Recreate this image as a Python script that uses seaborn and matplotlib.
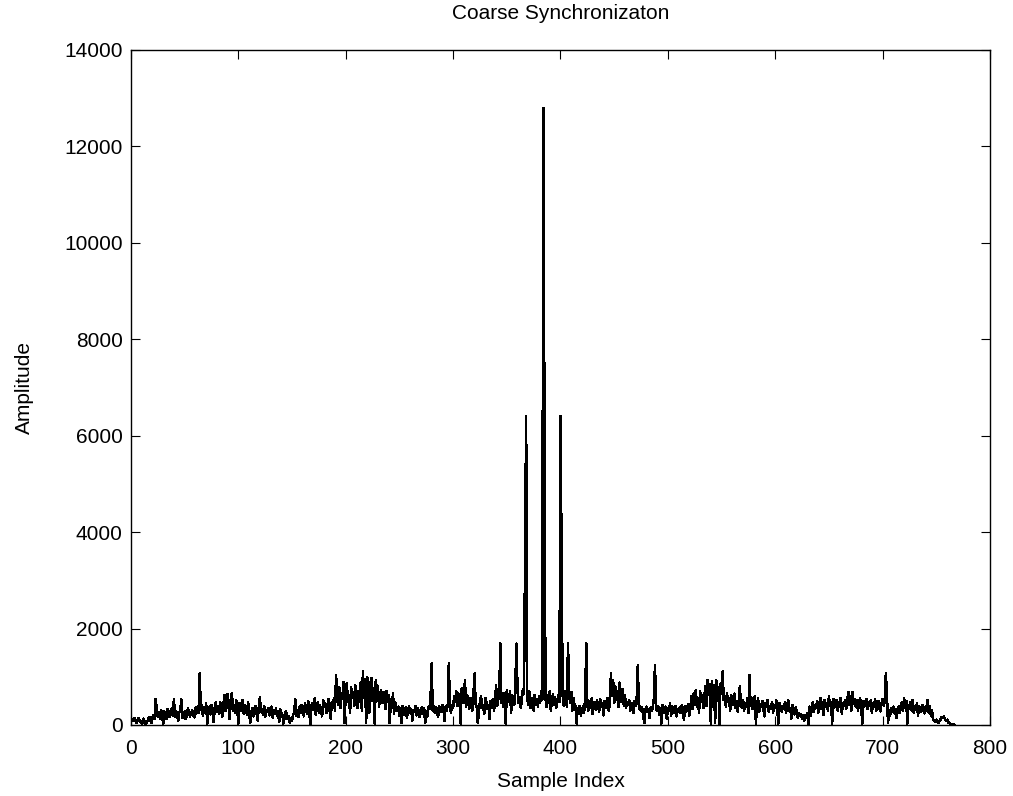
import numpy as np
import pandas as pd
import matplotlib
matplotlib.use("Agg")
import matplotlib.pyplot as plt
import seaborn as sns

# Amplitude values, samples 0..767 in blocks of 96
seg_a = [60, 120, 90, 150, 110, 40, 80, 140, 100, 60, 30, 90, 130, 20, 20, 60,
         110, 170, 90, 40, 150, 200, 130, 540, 300, 180, 260, 120, 310, 220, 20, 280,
         240, 130, 330, 270, 160, 220, 350, 200, 530, 170, 290, 210, 90, 260, 320, 530,
         150, 230, 280, 120, 200, 340, 260, 180, 240, 310, 210, 160, 360, 240, 380, 250,
         1070, 320, 410, 190, 360, 270, 450, 30, 300, 380, 220, 420, 310, 60, 350, 470,
         280, 400, 230, 480, 330, 170, 380, 620, 290, 450, 640, 360, 120, 560, 660, 300]
seg_b = [420, 250, 510, 330, 30, 460, 380, 290, 520, 240, 400, 340, 210, 470, 300, 40,
         260, 350, 180, 310, 390, 240, 90, 360, 570, 280, 330, 220, 400, 170, 310, 280,
         350, 200, 260, 380, 150, 300, 240, 340, 190, 280, 60, 320, 250, 210, 30, 160,
         280, 230, 120, 190, 40, 140, 90, 220, 260, 530, 200, 310, 170, 380, 260, 420,
         300, 180, 450, 350, 240, 500, 280, 20, 390, 460, 310, 550, 220, 370, 480, 260,
         410, 330, 180, 520, 370, 450, 250, 400, 540, 300, 130, 470, 380, 560, 290, 1040]
seg_c = [600, 420, 780, 350, 660, 540, 890, 40, 720, 870, 480, 610, 250, 780, 560, 690,
         400, 820, 620, 350, 700, 480, 880, 300, 1110, 560, 950, 40, 1000, 640, 260, 870,
         980, 500, 760, 30, 930, 700, 810, 380, 600, 720, 450, 560, 680, 340, 700, 480,
         620, 40, 540, 400, 650, 230, 480, 360, 300, 380, 180, 340, 40, 400, 220, 310,
         360, 150, 290, 380, 250, 330, 90, 310, 270, 390, 200, 350, 280, 160, 320, 370,
         240, 350, 40, 290, 180, 380, 330, 560, 1280, 300, 400, 250, 370, 320, 160, 390]
seg_d = [350, 270, 410, 330, 90, 380, 300, 420, 1280, 390, 250, 420, 350, 600, 480, 700,
         400, 650, 520, 30, 760, 590, 450, 930, 380, 620, 500, 340, 560, 420, 300, 650,
         1070, 430, 380, 40, 280, 470, 590, 350, 400, 230, 560, 480, 330, 420, 120, 500,
         380, 540, 300, 460, 820, 390, 520, 700, 1690, 450, 620, 380, 660, 30, 730, 520,
         480, 700, 260, 620, 560, 420, 900, 1690, 700, 450, 580, 360, 520, 750, 640, 3400,
         6400, 580, 420, 700, 350, 560, 480, 300, 620, 420, 540, 380, 600, 450, 700, 520]
seg_e = [12800, 6600, 560, 380, 620, 450, 700, 300, 520, 640, 410, 580, 350, 500, 620, 480,
         6400, 3400, 620, 400, 700, 520, 380, 1690, 660, 450, 690, 300, 560, 420, 380, 30,
         350, 280, 400, 200, 320, 380, 260, 560, 1690, 420, 300, 500, 360, 550, 230, 420,
         480, 310, 520, 400, 280, 540, 380, 460, 200, 500, 350, 420, 560, 300, 480, 1070,
         600, 930, 450, 800, 520, 700, 380, 880, 660, 480, 750, 400, 620, 350, 480, 420,
         520, 300, 460, 380, 250, 500, 400, 560, 1240, 330, 380, 290, 360, 200, 40, 300]
seg_f = [380, 280, 330, 150, 360, 290, 380, 560, 1240, 320, 300, 380, 220, 350, 30, 420,
         300, 250, 380, 120, 340, 290, 450, 200, 380, 310, 260, 400, 180, 330, 280, 360,
         250, 420, 310, 100, 390, 280, 350, 440, 200, 380, 600, 330, 650, 420, 730, 380,
         560, 250, 700, 480, 620, 350, 590, 800, 400, 930, 620, 850, 30, 900, 700, 820,
         40, 930, 660, 780, 20, 860, 640, 1110, 520, 600, 380, 660, 480, 560, 300, 620,
         540, 420, 650, 360, 500, 280, 460, 800, 420, 350, 520, 300, 460, 380, 560, 250]
seg_g = [1040, 400, 560, 330, 480, 590, 30, 420, 550, 270, 440, 380, 500, 330, 180, 460,
         400, 520, 280, 390, 330, 480, 260, 420, 350, 510, 300, 30, 450, 380, 280, 400,
         330, 470, 250, 380, 520, 290, 350, 130, 410, 300, 220, 360, 280, 150, 240, 190,
         230, 120, 200, 90, 210, 160, 240, 20, 380, 200, 300, 470, 280, 420, 350, 500,
         260, 440, 560, 330, 480, 210, 520, 380, 450, 300, 590, 400, 470, 30, 540, 360,
         430, 510, 300, 470, 380, 560, 240, 450, 390, 520, 330, 480, 690, 420, 600, 300]
seg_h = [680, 450, 540, 380, 510, 300, 470, 550, 420, 30, 500, 380, 460, 540, 330, 480,
         400, 520, 250, 460, 380, 540, 300, 430, 500, 360, 280, 450, 540, 400, 480, 1070,
         620, 40, 300, 200, 350, 280, 380, 240, 330, 150, 300, 380, 260, 350, 480, 300,
         550, 380, 500, 30, 420, 330, 480, 300, 520, 250, 400, 310, 450, 200, 380, 330,
         280, 420, 350, 240, 380, 300, 520, 260, 400, 180, 300, 120, 90, 60, 110, 70,
         40, 80, 120, 160, 140, 180, 130, 90, 110, 60, 40, 30, 20, 10, 20, 0]

x_ticks = [0, 100, 200, 300, 400, 500, 600, 700, 800]
y_ticks = [0, 2000, 4000, 6000, 8000, 10000, 12000, 14000]
title = "Coarse Synchronizaton"
x_label = "Sample Index"
y_label = "Amplitude"

amplitude = seg_a + seg_b + seg_c + seg_d + seg_e + seg_f + seg_g + seg_h
df = pd.DataFrame({"Sample Index": np.arange(len(amplitude)), "Amplitude": amplitude})

sns.set_theme(style="white")
plt.rcParams["font.family"] = ["Liberation Sans", "DejaVu Sans"]

fig = plt.figure(figsize=(10.13, 7.96), dpi=100)
ax = fig.add_axes([0.1293, 0.0892, 0.848, 0.848])
sns.lineplot(data=df, x="Sample Index", y="Amplitude", color="black",
             linewidth=1.1, estimator=None, antialiased=False, ax=ax)

ax.set_xlim(0, 800)
ax.set_ylim(0, 14000)
ax.set_xticks(x_ticks)
ax.set_yticks(y_ticks)
ax.set_xticklabels([str(v) for v in x_ticks])
ax.set_yticklabels([str(v) for v in y_ticks])
ax.tick_params(direction="in", length=6.5, width=0.8, colors="black",
               labelsize=15, top=True, right=True, bottom=True, left=True)
ax.tick_params(axis="x", pad=10)
ax.tick_params(axis="y", pad=6)
for s in ax.spines.values():
    s.set_visible(True)
    s.set_color("black")
    s.set_linewidth(1.0)
ax.set_title(title, fontsize=15, color="black", pad=22)
ax.set_xlabel(x_label, fontsize=15, color="black", labelpad=10)
ax.set_ylabel(y_label, fontsize=15, color="black", labelpad=22)
ax.grid(False)

fig.savefig("out.png", dpi=100, facecolor="white")
